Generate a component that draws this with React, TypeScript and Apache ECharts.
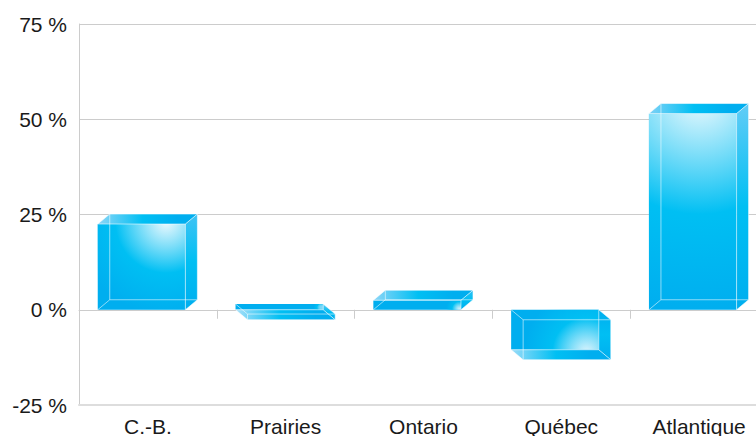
import React, { useEffect, useRef } from "react";
import * as echarts from "echarts";

const categories = ["C.-B.", "Prairies", "Ontario", "Québec", "Atlantique"];
const values = [22.5, 1.5, 2.5, -10.5, 51.5];
// Direction in which the drawn 3D depth runs: -1 goes up the page, 1 goes down.
const depthDirections = [-1, 1, -1, 1, -1];
const yTicks = { min: -25, max: 75, interval: 25 };

// Front-face highlight per bar: anchor (0..1 within the face), radius (px), strength.
const highlights = [
  { ax: 0.78, ay: -0.02, r: 92, a: 0.92 },
  { ax: 0.98, ay: 0.6, r: 8, a: 0.5 },
  { ax: 0.98, ay: 0.9, r: 13, a: 0.8 },
  { ax: 0.86, ay: 1.05, r: 62, a: 0.85 },
  { ax: 0.58, ay: -0.09, r: 215, a: 0.95 },
];
// Side and cap lightness per bar.
const capLeft = ["#8dd6f7", "#a8e0f9", "#8dd6f7", "#9bdcf8", "#7fd2f6"];
const sideTop = ["#3fc3f4", "#5dcaf5", "#2fc0f4", "#00aeef", "#62ccf6"];

const BASE = "#00aeef";
const MID = "#00bff3";
const EDGE = "rgba(255,255,255,0.55)";
const DX = 12;
const DY = 10;

const linear = (x: number, y: number, x2: number, y2: number, stops: [number, string][]) =>
  new echarts.graphic.LinearGradient(x, y, x2, y2, stops.map(([offset, color]) => ({ offset, color })));

function renderBar(params: any, api: any) {
  const i = params.dataIndex;
  const band = api.size([1, 0])[0];
  const zero = api.coord([api.value(0), 0]);
  const tip = api.coord([api.value(0), api.value(1)]);
  const x0 = zero[0] - band * 0.364;
  const x1 = zero[0] + band * 0.272;
  const yTop = Math.min(zero[1], tip[1]);
  const yBot = Math.max(zero[1], tip[1]);
  const w = x1 - x0;
  const h = yBot - yTop;
  const sign = depthDirections[i];
  const dy = sign * DY;
  const hl = highlights[i];
  const capY = sign < 0 ? yTop : yBot;
  const hiddenY = sign < 0 ? yBot : yTop;

  const line = (a: number, b: number, c: number, d: number) => ({
    type: "line",
    shape: { x1: a, y1: b, x2: c, y2: d },
    style: { stroke: EDGE, lineWidth: 1, fill: "none" },
  });
  const poly = (points: number[][], fill: any) => ({
    type: "polygon",
    shape: { points },
    style: { fill },
  });

  return {
    type: "group",
    children: [
      {
        type: "rect",
        shape: { x: x0, y: yTop, width: w, height: h },
        style: { fill: BASE },
      },
      {
        type: "rect",
        shape: { x: x0, y: yTop, width: w, height: h },
        style: {
          fill: new echarts.graphic.RadialGradient(
            x0 + w * hl.ax,
            yTop + h * hl.ay,
            hl.r,
            [
              { offset: 0, color: `rgba(255,255,255,${hl.a})` },
              { offset: 0.55, color: "rgba(0,191,243,1)" },
              { offset: 1, color: "rgba(0,191,243,0)" },
            ],
            true,
          ),
        },
      },
      poly(
        [[x0, capY], [x0 + DX, capY + dy], [x1 + DX, capY + dy], [x1, capY]],
        linear(0, 0, 1, 0, [[0, capLeft[i]], [0.45, MID], [0.8, BASE], [1, BASE]]),
      ),
      poly(
        [[x1, yTop], [x1 + DX, yTop + dy], [x1 + DX, yBot + dy], [x1, yBot]],
        linear(0, 0, 0, 1, [[0, sideTop[i]], [0.5, MID], [1, BASE]]),
      ),
      // wireframe of the glass box
      line(x0, capY, x1, capY),
      line(x1, yTop, x1, yBot),
      line(x0, capY, x0 + DX, capY + dy),
      line(x1, capY, x1 + DX, capY + dy),
      line(x1, hiddenY, x1 + DX, hiddenY + dy),
      line(x0, hiddenY, x0 + DX, hiddenY + dy),
      line(x0 + DX, hiddenY + dy, x1 + DX, hiddenY + dy),
      line(x0 + DX, yTop + dy, x0 + DX, yBot + dy),
      line(x1 + DX, yTop + dy, x1 + DX, yBot + dy),
      line(x0 + DX, capY + dy, x1 + DX, capY + dy),
    ],
  };
}

export default function App() {
  const ref = useRef<HTMLDivElement>(null);
  useEffect(() => {
    if (!ref.current) return;
    const chart = echarts.init(ref.current, null, { renderer: "svg" });
    const font = "'Liberation Sans', Arial, sans-serif";
    chart.setOption({
      animation: false,
      textStyle: { fontFamily: font },
      grid: { left: 79, width: 689, top: 24, height: 381, outerBoundsMode: "none", containLabel: false },
      xAxis: [
        {
          type: "category",
          data: categories,
          position: "bottom",
          axisLine: { show: true, onZero: false, lineStyle: { color: "#dddddd", width: 2 } },
          axisTick: { show: false },
          axisLabel: { color: "#1a1a1a", fontSize: 21, fontFamily: font, margin: 11, interval: 0 },
        },
        {
          type: "category",
          data: categories,
          position: "top",
          axisLine: { show: true, onZero: true, lineStyle: { color: "#cccccc", width: 1 } },
          axisTick: { show: true, inside: true, length: 9, lineStyle: { color: "#cccccc", width: 1 } },
          axisLabel: { show: false },
        },
      ],
      yAxis: {
        type: "value",
        min: yTicks.min,
        max: yTicks.max,
        interval: yTicks.interval,
        axisLine: { show: true, lineStyle: { color: "#cccccc", width: 1 } },
        axisTick: { show: false },
        axisLabel: { color: "#1a1a1a", fontSize: 21, fontFamily: font, margin: 12, formatter: "{value} %" },
        splitLine: { show: true, lineStyle: { color: "#cccccc", width: 1 } },
      },
      series: [
        {
          type: "custom",
          xAxisIndex: 0,
          yAxisIndex: 0,
          clip: false,
          renderItem: renderBar,
          encode: { x: 0, y: 1 },
          data: values.map((v, i) => [i, v]),
        },
      ],
    });
    return () => chart.dispose();
  }, []);
  return <div ref={ref} style={{ position: "absolute", left: 0, top: 0, width: 756, height: 436 }} />;
}
